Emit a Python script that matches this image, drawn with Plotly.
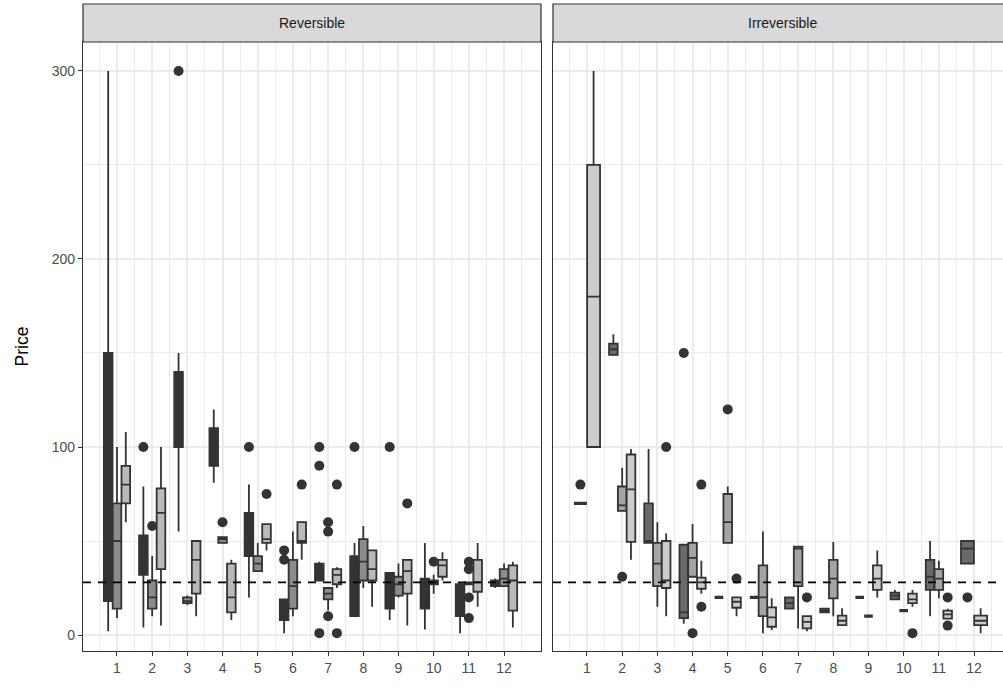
import plotly.graph_objects as go

# ---------------- data ----------------
months = list(range(1, 13))
tick_labels = [str(m) for m in months]
mean_price = 28

# Reversible facet: three groups (dark, medium, light)
rev_a_q1  = [18, 32, 100, 90, 42, 8, 29, 10, 14, 14, 10, 26]
rev_a_med = [40, 40, 120, 100, 55, 12, 35, 30, 28, 28, 20, 28]
rev_a_q3  = [150, 53, 140, 110, 65, 19, 38, 42, 33, 30, 27, 29]
rev_a_lo  = [2, 4, 55, 81, 20, 1, 29, 10, 8, 3, 1, 25]
rev_a_hi  = [300, 79, 150, 120, 80, 19, 39, 49, 33, 49, 28, 30]
rev_a_out = [[], [100], [300], [], [100], [45, 40], [100, 90, 1], [100], [100], [], [], []]

rev_b_q1  = [14, 14, 17, 49, 34, 14, 19, 29, 21, 27, 27, 26]
rev_b_med = [50, 20, 18, 51, 38, 26, 22, 39, 27, 28, 27, 30]
rev_b_q3  = [70, 29, 20, 52, 42, 40, 25, 51, 31, 29, 28, 35]
rev_b_lo  = [9, 10, 16, 49, 34, 10, 13, 25, 20, 22, 27, 26]
rev_b_hi  = [100, 42, 21, 52, 49, 55, 25, 58, 38, 32, 28, 38]
rev_b_out = [[], [58], [], [60], [], [], [60, 55, 10], [], [], [39], [39, 35, 20, 9], []]

rev_c_q1  = [70, 35, 22, 12, 49, 49, 27, 29, 22, 31, 23, 13]
rev_c_med = [80, 65, 40, 20, 51, 50, 32, 35, 34, 37, 28, 29]
rev_c_q3  = [90, 78, 50, 38, 59, 60, 35, 45, 40, 40, 40, 37]
rev_c_lo  = [60, 5, 10, 8, 45, 40, 25, 15, 5, 29, 15, 4]
rev_c_hi  = [108, 100, 50, 40, 59, 60, 36, 45, 40, 44, 49, 39]
rev_c_out = [[], [], [], [], [75], [80], [80, 1], [], [70], [], [], []]

# Irreversible facet (None = group absent in that month)
irr_a_q1  = [70, 149, 49, 9, 20, 20, 14, 12, 20, 19, 24, 38]
irr_a_med = [70, 152, 50, 12, 20, 20, 17, 13, 20, 21, 31, 46]
irr_a_q3  = [70, 155, 70, 48, 20, 20, 20, 14, 20, 22.5, 40, 50]
irr_a_lo  = [70, 149, 49, 6, 20, 20, 14, 12, 20, 19, 10, 38]
irr_a_hi  = [70, 160, 99, 48, 20, 20, 20, 14, 20, 24, 50, 50]
irr_a_out = [[80], [], [], [150], [], [], [], [], [], [], [], [20]]

irr_b_q1  = [None, 66, 26, 31, 49, 10, 26, 19.5, 10, 13, 24, None]
irr_b_med = [None, 69, 38, 41, 60, 20, 46, 30, 10, 13, 30, None]
irr_b_q3  = [None, 79, 49, 49, 75, 37, 47, 40, 10, 13, 35, None]
irr_b_lo  = [None, 66, 15, 31, 49, 1, 3.5, 10, 10, 13, 19.5, None]
irr_b_hi  = [None, 89, 60, 59, 79, 55, 47, 49.5, 10, 13, 39.5, None]
irr_b_out = [[], [31], [], [1], [120], [], [], [], [], [], [], []]

irr_c_q1  = [100, 49.5, 25, 24.6, 14.5, 4.4, 3.5, 5.3, 24, 17, 8.7, 5.3]
irr_c_med = [180, 77.5, 29, 28, 17.7, 9.4, 7, 7.6, 30, 19, 11, 7.6]
irr_c_q3  = [250, 96, 50, 30.5, 20, 14.7, 10, 10.3, 37, 22, 13, 10.3]
irr_c_lo  = [100, 40, 10, 22, 10, 2.7, 2, 5.3, 20, 15, 8.7, 1]
irr_c_hi  = [300, 99, 54, 39.5, 20, 19.5, 10, 14.2, 45, 24, 14, 14.2]
irr_c_out = [[], [], [100], [80, 15], [30], [], [20], [], [], [1], [20, 5], []]

# ---------------- styles ----------------
FONT = "Liberation Sans, Arial, Helvetica, sans-serif"
OUTLINE = "#333333"
rev_fills = ["#333333", "#8B8B8B", "#B9B9B9"]
irr_fills = ["#6A6A6A", "#A4A4A4", "#CCCCCC"]

W, H = 1003, 692
def px_x(p): return p / W
def px_y(p): return (H - p) / H

left_dom = [px_x(83), px_x(541)]
right_dom = [px_x(553), 1.0]
y_dom = [px_y(651), px_y(42)]
unit = (541 - 83) / (13.05 - 0.034)
x_range_left = [0.034, 13.05]
x_range_right = [0.034, 0.034 + (W - 553) / unit]
y_range = [-8.5, 315.4]

facets = [
    ("x", "y", rev_fills, [
        (rev_a_q1, rev_a_med, rev_a_q3, rev_a_lo, rev_a_hi, rev_a_out),
        (rev_b_q1, rev_b_med, rev_b_q3, rev_b_lo, rev_b_hi, rev_b_out),
        (rev_c_q1, rev_c_med, rev_c_q3, rev_c_lo, rev_c_hi, rev_c_out),
    ]),
    ("x2", "y2", irr_fills, [
        (irr_a_q1, irr_a_med, irr_a_q3, irr_a_lo, irr_a_hi, irr_a_out),
        (irr_b_q1, irr_b_med, irr_b_q3, irr_b_lo, irr_b_hi, irr_b_out),
        (irr_c_q1, irr_c_med, irr_c_q3, irr_c_lo, irr_c_hi, irr_c_out),
    ]),
]

fig = go.Figure()
total_w = 0.75
for xa, ya, fills, groups in facets:
    ox, oy = [], []
    for ci, m in enumerate(months):
        present = [gi for gi, g in enumerate(groups) if g[0][ci] is not None]
        n = len(present)
        w = total_w / n
        for k, gi in enumerate(present):
            q1, med, q3, lo, hi, out = groups[gi]
            pos = m - total_w / 2 + w * (k + 0.5)
            flat = q1[ci] == q3[ci]
            fig.add_trace(go.Box(
                x=[pos], q1=[q1[ci]], median=[med[ci]], q3=[q3[ci]],
                lowerfence=[lo[ci]], upperfence=[hi[ci]],
                width=w * 0.98, whiskerwidth=0, boxpoints=False,
                fillcolor=fills[gi], line=dict(color=OUTLINE, width=3.2 if flat else 1.8),
                xaxis=xa, yaxis=ya, showlegend=False, hoverinfo="skip",
            ))
            for v in out[ci]:
                ox.append(pos)
                oy.append(v)
    fig.add_trace(go.Scatter(
        x=ox, y=oy, mode="markers", xaxis=xa, yaxis=ya,
        marker=dict(color=OUTLINE, size=10, line=dict(width=0)),
        showlegend=False, hoverinfo="skip",
    ))

grid = "#EBEBEB"
TICK = 14
def xaxis_common(dom, rng, anchor):
    return dict(
        domain=dom, range=rng, tickmode="array", tickvals=months, ticktext=tick_labels,
        showgrid=True, gridcolor=grid, gridwidth=1.5, zeroline=False,
        minor=dict(tickmode="array", tickvals=[m - 0.5 for m in months] + [12.5],
                   showgrid=True, gridcolor=grid, gridwidth=1.0, ticks=""),
        showline=True, linecolor=OUTLINE, linewidth=1.2, mirror=True,
        ticks="outside", ticklen=4, tickwidth=1, tickcolor=OUTLINE,
        tickfont=dict(family=FONT, size=TICK, color="#4D4D4D"),
        anchor=anchor,
    )

def yaxis_common(anchor, labels, mirror):
    d = dict(
        domain=y_dom, range=y_range, tickmode="array", tickvals=[0, 100, 200, 300],
        showgrid=True, gridcolor=grid, gridwidth=1.5, zeroline=False,
        minor=dict(tickmode="array", tickvals=[50, 150, 250], showgrid=True,
                   gridcolor=grid, gridwidth=1.0, ticks=""),
        showline=True, linecolor=OUTLINE, linewidth=1.2, mirror=mirror,
        anchor=anchor,
    )
    if labels:
        d.update(ticks="outside", ticklen=4, tickwidth=1, tickcolor=OUTLINE,
                 tickfont=dict(family=FONT, size=TICK, color="#4D4D4D"))
    else:
        d.update(showticklabels=False, ticks="")
    return d

fig.update_layout(
    width=W, height=H, margin=dict(l=0, r=0, t=0, b=0),
    paper_bgcolor="white", plot_bgcolor="white",
    boxmode="overlay",
    xaxis=xaxis_common(left_dom, x_range_left, "y"),
    xaxis2=xaxis_common(right_dom, x_range_right, "y2"),
    yaxis=yaxis_common("x", True, True),
    yaxis2=yaxis_common("x2", False, False),
)

# mean reference lines
for xa, ya in [("x", "y"), ("x2", "y2")]:
    fig.add_shape(type="line", xref=f"{xa} domain", yref=ya, x0=0, x1=1,
                  y0=mean_price, y1=mean_price,
                  line=dict(color="black", width=1.6, dash="8px,7px"), layer="above")

# facet strips
strip_top = px_y(4)
panel_w = (541 - 83) / W
for dom, label in [(left_dom, "Reversible"), (right_dom, "Irreversible")]:
    x1 = dom[0] + panel_w
    fig.add_shape(type="rect", xref="paper", yref="paper",
                  x0=dom[0], x1=min(x1, 1.01),
                  y0=y_dom[1], y1=strip_top,
                  fillcolor="#D9D9D9", line=dict(color=OUTLINE, width=1.2), layer="above")
    fig.add_annotation(x=dom[0] + panel_w / 2, y=(y_dom[1] + strip_top) / 2,
                       xref="paper", yref="paper", xanchor="center", yanchor="middle",
                       text=label, showarrow=False,
                       font=dict(family=FONT, size=TICK, color="#1A1A1A"))

fig.add_annotation(x=px_x(21), y=(y_dom[0] + y_dom[1]) / 2, xref="paper", yref="paper",
                   xanchor="center", yanchor="middle",
                   text="Price", textangle=-90, showarrow=False,
                   font=dict(family=FONT, size=17.5, color="black"))

fig.write_html("out.html")
